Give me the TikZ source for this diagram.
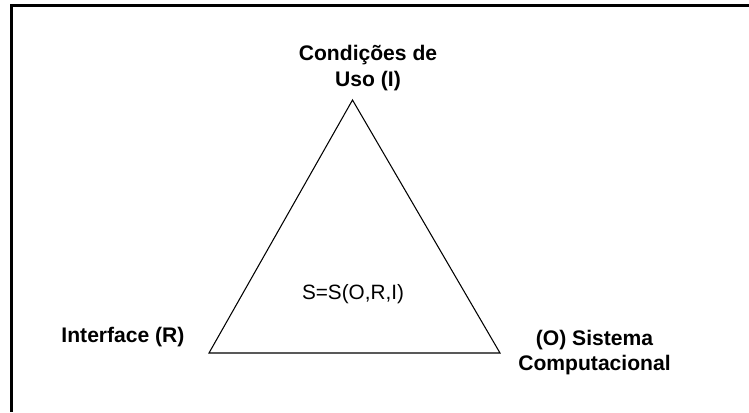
\documentclass[tikz,border=0pt]{standalone}
\usepackage{fontspec}
\setmainfont{Liberation Sans}
\usetikzlibrary{calc}

\tikzset{
    vlabel/.style={font=\fontsize{12}{14.5}\selectfont\bfseries, align=center, inner sep=0pt},
    flabel/.style={font=\fontsize{11.8}{14}\selectfont, inner sep=0pt}
}

\begin{document}
\begin{tikzpicture}[x=0.02cm, y=-0.02cm]
    \useasboundingbox (0,0) rectangle (749,412);

    \coordinate (F0) at (749,5.5);
    \coordinate (F1) at (11.5,5.5);
    \coordinate (F2) at (11.5,412);

    \coordinate (T0) at (352.5,100);
    \coordinate (T1) at (209,353);
    \coordinate (T2) at (500,353);

    \draw [line width=1.5pt](F0) -- (F1) -- (F2);
    \draw [line width=0.6pt](T0) -- (T1) -- (T2) -- cycle;

    \node [vlabel] (usage) at (368,68) {Condições de\\Uso (I)};
    \node [vlabel] (iface) at (123,337) {Interface (R)};
    \node [vlabel] (system) at (594.5,352.5) {(O) Sistema\\Computacional};
    \node [flabel] (formula) at (353,294) {S=S(O,R,I)};

\end{tikzpicture}
\end{document}
